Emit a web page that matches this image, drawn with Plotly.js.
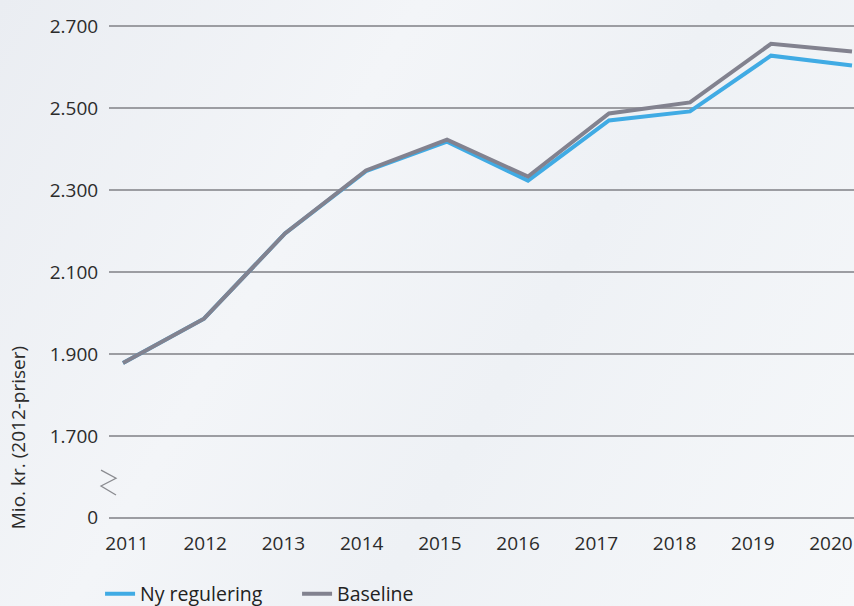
<!DOCTYPE html>
<html>
<head>
<meta charset="utf-8">
<script src="https://cdn.plot.ly/plotly-3.0.1.min.js"></script>
<style>
html,body{margin:0;padding:0;}
body{width:854px;height:606px;overflow:hidden;background:linear-gradient(120deg,#eaedf2 0%,#f3f5f8 35%,#eef1f5 60%,#f6f8fa 100%);}
#chart{width:854px;height:606px;}
</style>
</head>
<body>
<div id="chart"></div>
<script>
const years = [2011, 2012, 2013, 2014, 2015, 2016, 2017, 2018, 2019, 2020];
const nyRegulering = [1878, 1986, 2194, 2346, 2418, 2323, 2470, 2492, 2628, 2604];
const baseline = [1878, 1986, 2194, 2348, 2423, 2333, 2487, 2514, 2657, 2638];
const yTickVals = [1500, 1700, 1900, 2100, 2300, 2500, 2700];
const yTickText = ['0', '1.700', '1.900', '2.100', '2.300', '2.500', '2.700'];
const seriesNames = ['Ny regulering', 'Baseline'];
const yTitle = 'Mio. kr. (2012-priser)';

const FONT = 'Open Sans, Noto Sans, sans-serif';

const traces = [
  {x: years, y: nyRegulering, name: seriesNames[0], type: 'scatter', mode: 'lines',
   line: {color: '#40abe4', width: 4}, hoverinfo: 'skip'},
  {x: years, y: baseline, name: seriesNames[1], type: 'scatter', mode: 'lines',
   line: {color: '#82828f', width: 4}, hoverinfo: 'skip'},
  {x: years, y: baseline, xaxis: 'x2', yaxis: 'y', type: 'scatter', mode: 'none',
   showlegend: false, hoverinfo: 'skip'}
];

const layout = {
  width: 854, height: 606,
  margin: {l: 109, r: 0, t: 18, b: 80, autoexpand: false},
  paper_bgcolor: 'rgba(0,0,0,0)',
  plot_bgcolor: 'rgba(0,0,0,0)',
  font: {family: FONT, color: '#2b2b2b', size: 19},
  showlegend: true,
  legend: {orientation: 'h', x: -0.012, xanchor: 'left', y: -0.134, yanchor: 'middle',
    font: {family: FONT, size: 19.5, color: '#222'}, bgcolor: 'rgba(0,0,0,0)',
    entrywidth: 152, entrywidthmode: 'pixels', tracegroupgap: 0},
  xaxis: {range: [2010.8272, 2020.0247], showgrid: false, zeroline: false, showline: false,
    showticklabels: false, ticks: ''},
  xaxis2: {overlaying: 'x', anchor: 'y', side: 'bottom', range: [2010.7699, 2020.2942],
    tickvals: years, ticktext: years.map(String), showgrid: false, zeroline: false, showline: false,
    ticks: 'outside', ticklen: 0, tickcolor: 'rgba(0,0,0,0)',
    tickfont: {family: FONT, size: 19, color: '#2b2b2b'}},
  yaxis: {range: [1480, 2720], tickvals: yTickVals, ticktext: yTickText,
    showgrid: true, gridcolor: '#9c9da2', gridwidth: 1.5, zeroline: false, showline: false,
    ticks: 'outside', ticklen: 6, tickcolor: 'rgba(0,0,0,0)',
    tickfont: {family: FONT, size: 19, color: '#2b2b2b'}},
  annotations: [
    {text: yTitle, xref: 'paper', yref: 'paper', x: -0.122, y: 0.173, textangle: -90,
     showarrow: false, xanchor: 'center', yanchor: 'middle',
     font: {family: FONT, size: 19, color: '#2b2b2b'}}
  ],
  shapes: [
    {type: 'path', xref: 'paper', yref: 'paper', layer: 'above',
     path: 'M -0.0107,0.110 L 0.0094,0.094 L -0.0107,0.0787 L 0.0094,0.0610',
     line: {color: '#8a8b90', width: 1.3}}
  ]
};

Plotly.newPlot('chart', traces, layout, {displayModeBar: false, staticPlot: true});
</script>
</body>
</html>
